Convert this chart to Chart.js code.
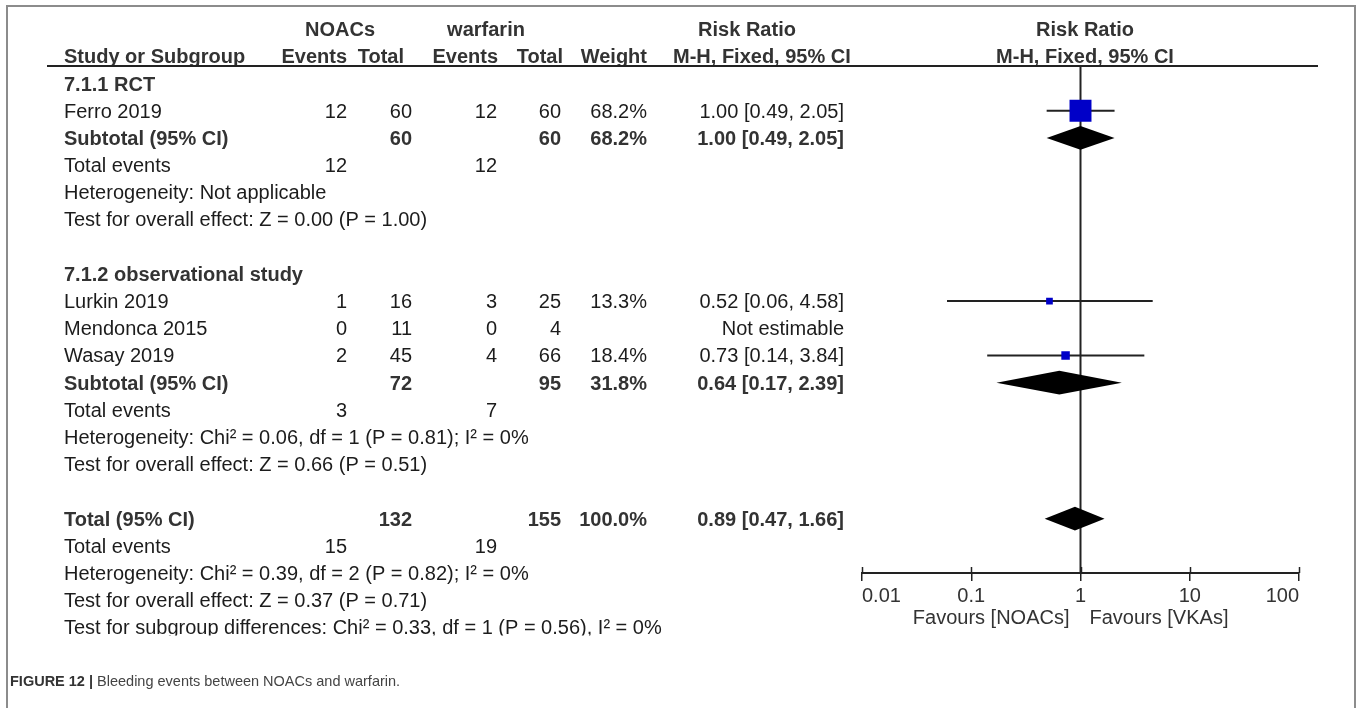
<!DOCTYPE html>
<html><head><meta charset="utf-8">
<script src="https://cdn.jsdelivr.net/npm/chart.js@4.4.1/dist/chart.umd.min.js"></script>
<style>html,body{margin:0;padding:0;background:#fff;overflow:hidden}#wrap{width:1357px;height:708px}</style>
</head><body><div id="wrap"><canvas id="c" width="1357" height="708"></canvas></div>
<script>
// ---------- data ----------
const xTicks = [0.01, 0.1, 1, 10, 100];
const xTickLabels = ['0.01', '0.1', '1', '10', '100'];

const studyNames = ['Ferro 2019', 'Lurkin 2019', 'Mendonca 2015', 'Wasay 2019'];
const studyRows = [3, 10, 11, 12];
const noacEvents = [12, 1, 0, 2];
const noacTotal = [60, 16, 11, 45];
const warfEvents = [12, 3, 0, 4];
const warfTotal = [60, 25, 4, 66];
const studyWeight = [68.2, 13.3, null, 18.4];
const studyRR = [1.00, 0.52, null, 0.73];
const studyLo = [0.49, 0.06, null, 0.14];
const studyHi = [2.05, 4.58, null, 3.84];

const poolNames = ['Subtotal (95% CI)', 'Subtotal (95% CI)', 'Total (95% CI)'];
const poolRows = [4, 13, 18];
const poolNoacTotal = [60, 72, 132];
const poolWarfTotal = [60, 95, 155];
const poolWeight = [68.2, 31.8, 100.0];
const poolRR = [1.00, 0.64, 0.89];
const poolLo = [0.49, 0.17, 0.47];
const poolHi = [2.05, 2.39, 1.66];

const eventRows = [5, 14, 19];
const eventNoac = [12, 3, 15];
const eventWarf = [12, 7, 19];

const groupNames = ['7.1.1 RCT', '7.1.2 observational study'];
const groupRows = [2, 9];

const noteLines = [
  'Heterogeneity: Not applicable',
  'Test for overall effect: Z = 0.00 (P = 1.00)',
  'Heterogeneity: Chi\u00b2 = 0.06, df = 1 (P = 0.81); I\u00b2 = 0%',
  'Test for overall effect: Z = 0.66 (P = 0.51)',
  'Heterogeneity: Chi\u00b2 = 0.39, df = 2 (P = 0.82); I\u00b2 = 0%',
  'Test for overall effect: Z = 0.37 (P = 0.71)',
  'Test for subgroup differences: Chi\u00b2 = 0.33, df = 1 (P = 0.56), I\u00b2 = 0%'
];
const noteRows = [6, 7, 15, 16, 20, 21, 22];

const favourLeft = 'Favours [NOACs]';
const favourRight = 'Favours [VKAs]';
const captionBold = 'FIGURE 12 |';
const captionText = ' Bleeding events between NOACs and warfarin.';

// ---------- layout / style ----------
const FONT = "'Liberation Sans', Arial, Helvetica, sans-serif";
const HEADER_LINE_ROW = 1.36;
const AXIS_ROW = 20.0;
const DIAMOND_HALF = 0.44;
const TXT = '#1c1c1c', BOLD = '#333333', LINE = '#222222', BLUE = '#0000c8';
const COL = { name: 64, nEv: 347, nTot: 412, wEv: 497, wTot: 561, weight: 647, ci: 844 };

function fmtCI(r, l, h) { return r.toFixed(2) + ' [' + l.toFixed(2) + ', ' + h.toFixed(2) + ']'; }
function sideFor(w) { return 1.02 * Math.pow(w, 0.727); }

// ---------- datasets ----------
const est = studyRR.map((v, i) => i).filter(i => studyRR[i] !== null);
const datasets = [];
datasets.push({
  label: 'studies', data: est.map(i => ({ x: studyRR[i], y: studyRows[i] })),
  pointStyle: 'rect', backgroundColor: BLUE, borderWidth: 0,
  pointRadius: est.map(i => sideFor(studyWeight[i]) / Math.SQRT2),
  pointHoverRadius: est.map(i => sideFor(studyWeight[i]) / Math.SQRT2),
  order: 0
});
est.forEach(i => datasets.push({
  label: 'ci ' + studyNames[i], showLine: true,
  data: [{ x: studyLo[i], y: studyRows[i] }, { x: studyHi[i], y: studyRows[i] }],
  borderColor: LINE, borderWidth: 2, pointRadius: 0, order: 2
}));
datasets.push({
  label: 'null', showLine: true,
  data: [{ x: 1, y: HEADER_LINE_ROW }, { x: 1, y: AXIS_ROW }],
  borderColor: LINE, borderWidth: 2, pointRadius: 0, order: 3
});

// ---------- plugin for table text, diamonds ----------
const forestPlugin = {
  id: 'forest',
  afterDatasetsDraw(chart) {
    const ctx = chart.ctx, xs = chart.scales.x, ys = chart.scales.y;
    ctx.save();
    ctx.fillStyle = '#000';
    poolRows.forEach((r, i) => {
      const yc = ys.getPixelForValue(r);
      const yt = ys.getPixelForValue(r - DIAMOND_HALF), yb = ys.getPixelForValue(r + DIAMOND_HALF);
      ctx.beginPath();
      ctx.moveTo(xs.getPixelForValue(poolLo[i]), yc);
      ctx.lineTo(xs.getPixelForValue(poolRR[i]), yt);
      ctx.lineTo(xs.getPixelForValue(poolHi[i]), yc);
      ctx.lineTo(xs.getPixelForValue(poolRR[i]), yb);
      ctx.closePath();
      ctx.fill();
    });
    ctx.restore();
  },
  afterDraw(chart) {
    const ctx = chart.ctx, xs = chart.scales.x, ys = chart.scales.y;
    const Y = r => ys.getPixelForValue(r) + 7;
    function t(s, x, r, align, bold, color) {
      ctx.font = (bold ? 'bold ' : '') + '20px ' + FONT;
      ctx.textAlign = align; ctx.textBaseline = 'alphabetic';
      ctx.fillStyle = color || (bold ? BOLD : TXT);
      ctx.fillText(s, x, Y(r));
    }
    ctx.save();
    // frame
    ctx.strokeStyle = '#8c8c8c'; ctx.lineWidth = 2;
    ctx.strokeRect(7, 6, 1348, 730);
    // header
    t('NOACs', 340, 0, 'center', true);
    t('warfarin', 486, 0, 'center', true);
    t('Risk Ratio', 747, 0, 'center', true);
    t('Risk Ratio', 1085, 0, 'center', true);
    t('Study or Subgroup', COL.name, 1, 'left', true);
    t('Events', COL.nEv, 1, 'right', true);
    t('Total', 404, 1, 'right', true);
    t('Events', 498, 1, 'right', true);
    t('Total', 563, 1, 'right', true);
    t('Weight', COL.weight, 1, 'right', true);
    t('M-H, Fixed, 95% CI', 673, 1, 'left', true);
    t('M-H, Fixed, 95% CI', 1085, 1, 'center', true);
    // header rule
    ctx.strokeStyle = LINE; ctx.lineWidth = 2;
    const hy = Math.round(ys.getPixelForValue(HEADER_LINE_ROW));
    ctx.beginPath(); ctx.moveTo(47, hy); ctx.lineTo(1318, hy); ctx.stroke();
    // groups
    groupNames.forEach((g, i) => t(g, COL.name, groupRows[i], 'left', true));
    // studies
    studyNames.forEach((s, i) => {
      const r = studyRows[i];
      t(s, COL.name, r, 'left');
      t(String(noacEvents[i]), COL.nEv, r, 'right');
      t(String(noacTotal[i]), COL.nTot, r, 'right');
      t(String(warfEvents[i]), COL.wEv, r, 'right');
      t(String(warfTotal[i]), COL.wTot, r, 'right');
      if (studyWeight[i] !== null) t(studyWeight[i].toFixed(1) + '%', COL.weight, r, 'right');
      t(studyRR[i] !== null ? fmtCI(studyRR[i], studyLo[i], studyHi[i]) : 'Not estimable', COL.ci, r, 'right');
    });
    // pooled
    poolNames.forEach((s, i) => {
      const r = poolRows[i];
      t(s, COL.name, r, 'left', true);
      t(String(poolNoacTotal[i]), COL.nTot, r, 'right', true);
      t(String(poolWarfTotal[i]), COL.wTot, r, 'right', true);
      t(poolWeight[i].toFixed(1) + '%', COL.weight, r, 'right', true);
      t(fmtCI(poolRR[i], poolLo[i], poolHi[i]), COL.ci, r, 'right', true);
    });
    // total events
    eventRows.forEach((r, i) => {
      t('Total events', COL.name, r, 'left');
      t(String(eventNoac[i]), COL.nEv, r, 'right');
      t(String(eventWarf[i]), COL.wEv, r, 'right');
    });
    // notes (last one clipped at the bottom as in the source)
    noteLines.forEach((s, i) => {
      if (i === noteLines.length - 1) {
        ctx.save();
        ctx.beginPath(); ctx.rect(0, 0, 860, Y(noteRows[i]) + 1); ctx.clip();
        t(s, COL.name, noteRows[i], 'left');
        ctx.restore();
      } else t(s, COL.name, noteRows[i], 'left');
    });
    // upper halves of axis ticks
    const ay = ys.getPixelForValue(AXIS_ROW);
    ctx.strokeStyle = LINE; ctx.lineWidth = 1.5;
    xTicks.forEach(v => {
      const px = Math.round(xs.getPixelForValue(v)) + 0.5;
      ctx.beginPath(); ctx.moveTo(px, ay - 6); ctx.lineTo(px, ay); ctx.stroke();
    });
    // favours labels
    const x1 = xs.getPixelForValue(1);
    ctx.font = '20px ' + FONT; ctx.fillStyle = '#333'; ctx.textBaseline = 'alphabetic';
    ctx.textAlign = 'right'; ctx.fillText(favourLeft, x1 - 11, ay + 51);
    ctx.textAlign = 'left'; ctx.fillText(favourRight, x1 + 9, ay + 51);
    // caption
    ctx.font = 'bold 14.5px ' + FONT; ctx.fillStyle = '#333'; ctx.textAlign = 'left';
    ctx.fillText(captionBold, 10, 686);
    const w = ctx.measureText(captionBold).width;
    ctx.font = '14.5px ' + FONT; ctx.fillStyle = '#444';
    ctx.fillText(captionText, 10 + w, 686);
    ctx.restore();
  }
};

new Chart(document.getElementById('c'), {
  type: 'scatter',
  data: { datasets },
  plugins: [forestPlugin],
  options: {
    responsive: false, animation: false, devicePixelRatio: 1,
    layout: { padding: { left: 862, right: 58, top: 1.8, bottom: 53.4 } },
    plugins: { legend: { display: false }, tooltip: { enabled: false } },
    scales: {
      x: {
        type: 'logarithmic', min: 0.01, max: 100,
        position: { y: AXIS_ROW },
        afterBuildTicks: s => { s.ticks = xTicks.map(v => ({ value: v, major: true })); },
        ticks: {
          autoSkip: false, maxRotation: 0, align: 'inner', padding: 4, color: '#333',
          font: { family: FONT, size: 20 },
          callback: (v, i) => xTickLabels[i]
        },
        grid: { display: true, drawOnChartArea: false, drawTicks: true, tickLength: 7, color: LINE, lineWidth: 1.5 },
        border: { display: true, color: LINE, width: 2 }
      },
      y: { type: 'linear', min: -0.5, max: 23, reverse: true, display: false }
    }
  }
});
</script></body></html>
